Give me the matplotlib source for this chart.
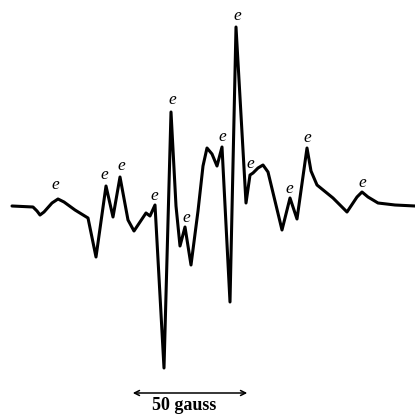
import matplotlib
matplotlib.use("Agg")
import matplotlib.pyplot as plt
import numpy as np

# field (arbitrary units, 2.4 units = 1 gauss) and derivative signal
field = [12, 33, 37, 40, 44, 52, 58, 64, 75, 88, 96, 106, 113, 120, 128, 134,
         146, 150, 155, 164, 171, 176, 180, 185, 191, 198, 203, 207, 212,
         217, 222, 230, 236, 246, 250, 253, 258, 263, 268, 282, 290, 297,
         307, 311, 317, 333, 347, 357, 362, 368, 378, 395, 415]
signal = [0, -1, -5, -9, -6, 3, 7, 4, -4, -12, -51, 20, -11, 29, -14, -25,
          -7, -10, 1, -162, 94, 0, -40, -21, -59, -5, 40, 58, 52,
          40, 59, -96, 179, 3, 31, 33, 38, 41, 34, -24, 8, -13,
          58, 35, 21, 8, -6, 9, 14, 9, 3, 1, 0]

# hyperfine lines marked "e"
e_field = [55, 104, 121, 154, 186, 172, 222, 237, 250, 289, 307, 362]
e_signal = [21, 31, 40, 10, -12, 106, 69, 190, 42, 17, 68, 23]

scale_start, scale_end = 130, 250
scale_label = "50 gauss"

fig = plt.figure(figsize=(4.15, 4.16), dpi=100)
ax = fig.add_axes([0, 0, 1, 1])

ax.plot(field, signal, color="black", lw=2.2, solid_joinstyle="round",
        solid_capstyle="round")

for xe, ye in zip(e_field, e_signal):
    ax.text(xe, ye, "e", ha="center", va="center", fontsize=12.5,
            style="italic", family="Liberation Serif")

ax.annotate("", xy=(scale_start, -187), xytext=(scale_end, -187),
            arrowprops=dict(arrowstyle="<->", color="black", lw=1.1,
                            mutation_scale=9))
ax.text((scale_start + scale_end) / 2 - 6, -199, scale_label, ha="center",
        va="center", fontsize=13, fontweight="bold", family="Liberation Serif")

ax.set_xlim(0, 415)
ax.set_ylim(-210, 206)
ax.axis("off")

fig.savefig("out.png", dpi=100)
